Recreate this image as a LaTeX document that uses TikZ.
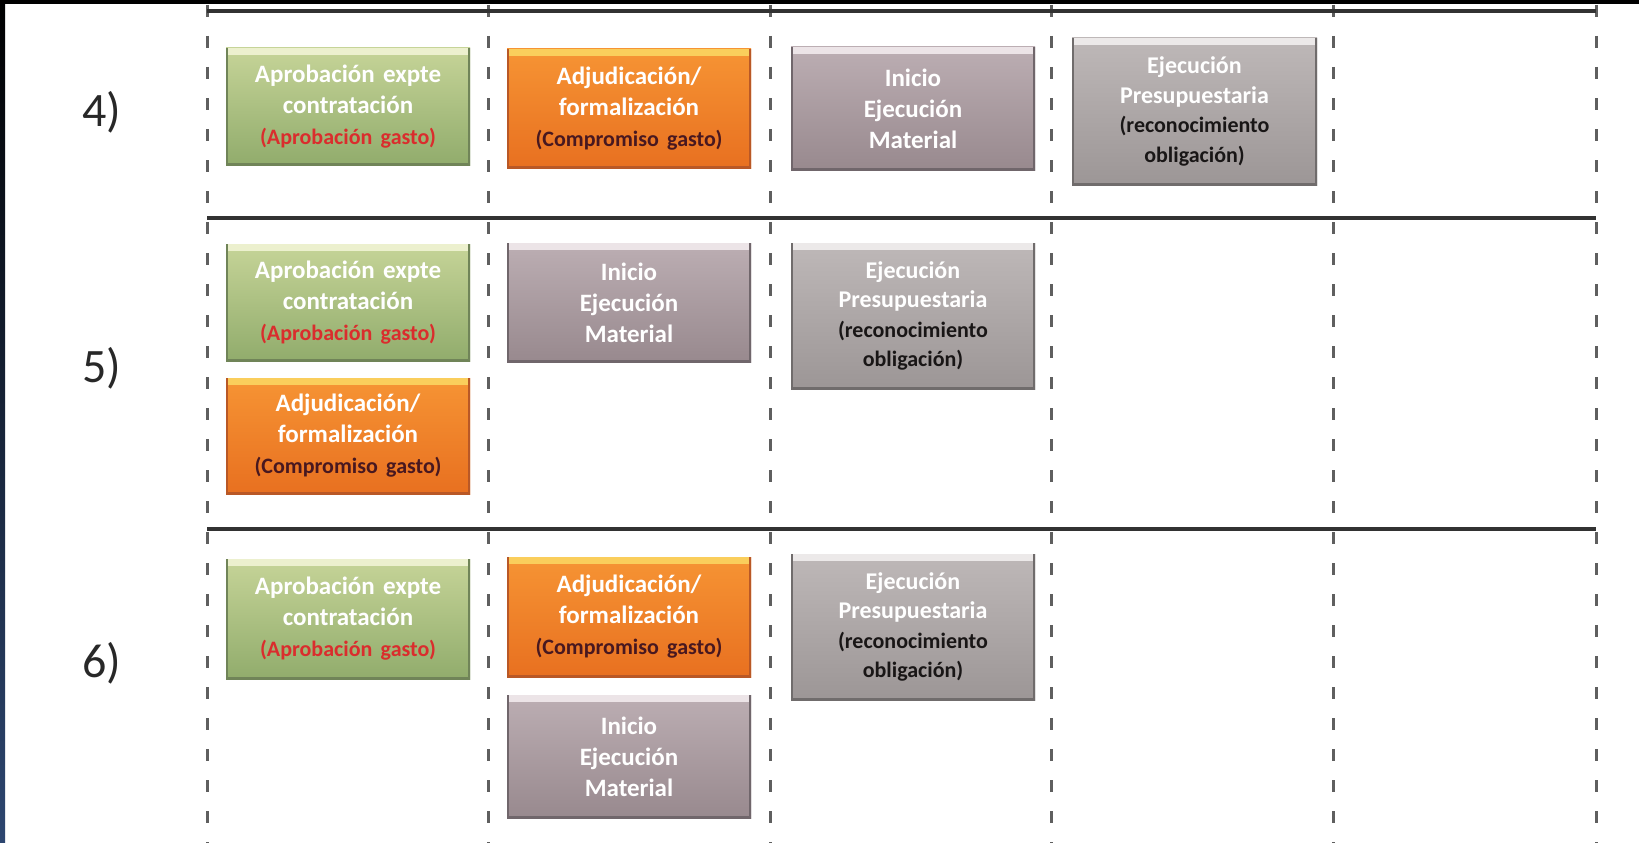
\documentclass[tikz,border=0pt]{standalone}
\usepackage{fontspec}
\setmainfont{Carlito}
\definecolor{leftblue}{RGB}{45,70,112}
\definecolor{rulec}{RGB}{50,50,50}
\definecolor{gridc}{RGB}{95,95,95}
\definecolor{gtop}{RGB}{198,212,152}
\definecolor{gbot}{RGB}{145,172,108}
\definecolor{ghl}{RGB}{236,240,206}
\definecolor{gedge}{RGB}{112,132,88}
\definecolor{gsub}{RGB}{218,45,45}
\definecolor{otop}{RGB}{246,148,52}
\definecolor{obot}{RGB}{232,112,32}
\definecolor{ohl}{RGB}{250,206,92}
\definecolor{oedge}{RGB}{185,88,38}
\definecolor{osub}{RGB}{72,24,32}
\definecolor{itop}{RGB}{188,174,179}
\definecolor{ibot}{RGB}{152,137,142}
\definecolor{ihl}{RGB}{236,228,231}
\definecolor{iedge}{RGB}{112,102,107}
\definecolor{etop}{RGB}{190,184,184}
\definecolor{ebot}{RGB}{156,150,150}
\definecolor{ehl}{RGB}{236,233,233}
\definecolor{eedge}{RGB}{112,108,108}
\definecolor{esub}{RGB}{25,22,22}
\definecolor{lblc}{RGB}{40,40,40}
\tikzset{
  boxbase/.style={rectangle, inner sep=0pt, text width=238pt, align=center,
    font=\bfseries\fontsize{25}{31}\selectfont, text=white},
  deco/.style={path picture={
    \fill[#1hl] (path picture bounding box.north west) rectangle ([yshift=-7pt]path picture bounding box.north east);
    \draw[line width=4pt,#1edge] (path picture bounding box.north west) -- (path picture bounding box.south west)
      -- (path picture bounding box.south east) -- (path picture bounding box.north east);}},
  gbox/.style={boxbase, top color=gtop, bottom color=gbot, deco=g},
  obox/.style={boxbase, top color=otop, bottom color=obot, deco=o},
  ibox/.style={boxbase, top color=itop, bottom color=ibot, deco=i},
  ebox/.style={boxbase, top color=etop, bottom color=ebot, deco=e,
    font=\bfseries\fontsize{24}{29.5}\selectfont},
  gridv/.style={line width=3pt, gridc, dash pattern=on 12pt off 19pt},
  rulel/.style={line width=4pt, rulec},
  lbl/.style={font=\fontsize{48}{54}\selectfont, text=lblc, inner sep=0pt}
}
\newcommand\mybox[7]{%
  \node[#2box, minimum width={#5-#3}, minimum height={#6-#4}] (#1) at ({(#3+#5)/2},{(#4+#6)/2}) {#7};}
\newcommand\gtxt{Aprobación expte\\contratación\\{\fontsize{22}{31}\selectfont\color{gsub}(Aprobación gasto)}}
\newcommand\otxt{Adjudicación/\\formalización\\{\fontsize{22}{31}\selectfont\color{osub}(Compromiso gasto)}}
\newcommand\itxt{Inicio\\Ejecución\\Material}
\newcommand\etxt{Ejecución\\Presupuestaria\\{\fontsize{22}{29.5}\selectfont\color{esub}(reconocimiento\\obligación)}}
\begin{document}
\begin{tikzpicture}[x=1pt,y=-1pt]
\useasboundingbox (0,0) rectangle (1639,843);
\fill[white] (0,0) rectangle (1639,843);
\shade[top color=black, bottom color=leftblue] (0,0) rectangle (5,843);
\fill[black] (0,0) rectangle (1639,4);
% grid
\foreach \x in {207,488,770,1051,1333,1596} \draw[gridv] (\x,5) -- (\x,843);
\foreach \y in {11,218,529} \draw[rulel] (207,\y) -- (1596,\y);
% labels
\node[lbl] (l4) at (102,112) {4)};
\node[lbl] (l5) at (102,368) {5)};
\node[lbl] (l6) at (102,663) {6)};
% row 4
\mybox{g4}{g}{226}{48}{470}{165}{\gtxt}
\mybox{o4}{o}{507}{49}{751}{168}{\otxt}
\mybox{i4}{i}{791}{47}{1035}{170}{\itxt}
\mybox{e4}{e}{1072}{38}{1317}{185}{\etxt}
% row 5
\mybox{g5}{g}{226}{244}{470}{361}{\gtxt}
\mybox{o5}{o}{226}{378}{470}{494}{\otxt}
\mybox{i5}{i}{507}{243}{751}{362}{\itxt}
\mybox{e5}{e}{791}{243}{1035}{389}{\etxt}
% row 6
\mybox{g6}{g}{226}{559}{470}{679}{\gtxt}
\mybox{o6}{o}{507}{557}{751}{677}{\otxt}
\mybox{i6}{i}{507}{695}{751}{818}{\itxt}
\mybox{e6}{e}{791}{554}{1035}{700}{\etxt}
\end{tikzpicture}
\end{document}
